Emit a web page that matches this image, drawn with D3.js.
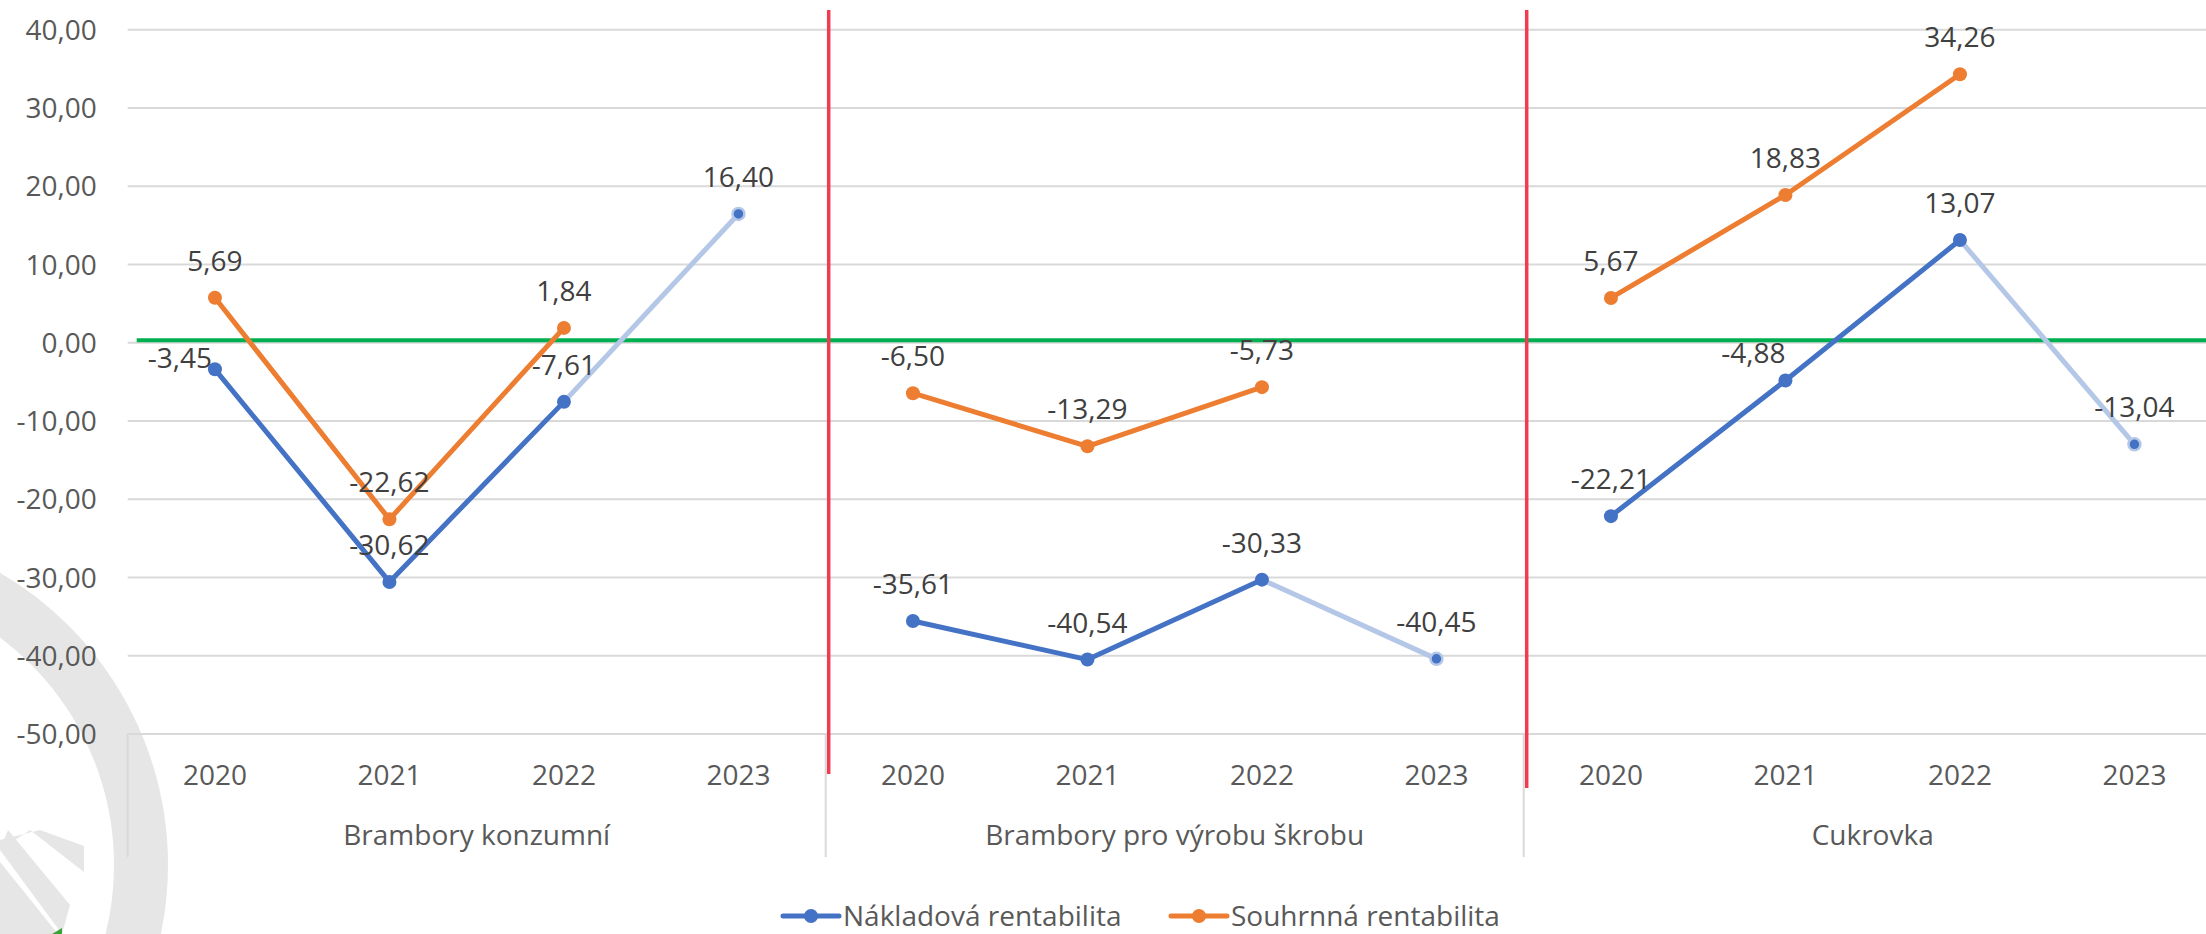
<!DOCTYPE html>
<html>
<head>
<meta charset="utf-8">
<script src="https://cdn.jsdelivr.net/npm/d3@7"></script>
<style>
  body { margin: 0; background: #fff; }
  text { font-family: "Open Sans", sans-serif; }
</style>
</head>
<body>
<svg id="chart" width="2206" height="934"></svg>
<script>
// data
var groups = ["Brambory konzumní", "Brambory pro výrobu škrobu", "Cukrovka"];
var years = ["2020", "2021", "2022", "2023"];
var nakladova = [
    [-3.45, -30.62, -7.61, 16.40],
    [-35.61, -40.54, -30.33, -40.45],
    [-22.21, -4.88, 13.07, -13.04]
];
var souhrnna = [
    [5.69, -22.62, 1.84, null],
    [-6.50, -13.29, -5.73, null],
    [5.67, 18.83, 34.26, null]
];
var yTicks = [40, 30, 20, 10, 0, -10, -20, -30, -40, -50];
var seriesNames = ["Nákladová rentabilita", "Souhrnná rentabilita"];

(function chart() {
    var svg = d3.select("#chart"),
        width = +svg.attr("width"),
        left = 127.7,
        groupW = 698;

    var cz = d3.formatLocale({decimal: ",", thousands: " ", grouping: [3], currency: ["", " Kč"], minus: "-"});
    var fmt = cz.format(".2f");

    var outer = d3.scaleBand()
        .domain(groups)
        .range([left, left + groupW * groups.length]);

    var inner = d3.scaleBand()
        .domain(years)
        .range([0, outer.bandwidth()]);

    var y = d3.scaleLinear()
        .domain([-50, 40])
        .range([733.6, 29.3]);

    function px(gi, yi) {
        return outer(groups[gi]) + inner(years[yi]) + inner.bandwidth() / 2;
    }

    // watermark in the lower left corner
    var wm = svg.append("g").attr("fill", "#e6e6e6");
    wm.append("circle")
        .attr("cx", -170).attr("cy", 865).attr("r", 311)
        .attr("fill", "none").attr("stroke", "#e6e6e6").attr("stroke-width", 54);
    wm.append("path").attr("d", "M0,840 L40,830 L84,846 L84,872 L30,830 L0,850 Z");
    wm.append("path").attr("d", "M0,862 L58,934 L0,934 Z");
    wm.append("path").attr("d", "M8,830 L70,905 L62,934 L0,850 Z");
    wm.append("path").attr("d", "M52,934 L62,928 L62,934 Z").attr("fill", "#3aa335");

    // y axis with gridlines
    var yAxis = svg.append("g")
        .attr("transform", "translate(" + left + ",0)")
        .call(d3.axisLeft(y)
            .tickValues(yTicks)
            .tickSize(-(width - left))
            .tickPadding(31)
            .tickFormat(fmt));
    yAxis.select(".domain").remove();
    yAxis.selectAll(".tick line")
        .attr("stroke", "#d9d9d9")
        .attr("stroke-width", 2);
    yAxis.selectAll(".tick text")
        .attr("fill", "#595959")
        .attr("font-size", 28)
        .attr("dy", "0.36em");

    // category axis
    var bottom = y(-50);
    var bounds = groups.map(function(g) { return outer(g); }).concat([outer.range()[1]]);
    svg.append("g").selectAll("line")
        .data(bounds)
        .join("line")
        .attr("x1", function(d) { return d; })
        .attr("x2", function(d) { return d; })
        .attr("y1", bottom)
        .attr("y2", 857)
        .attr("stroke", "#d9d9d9")
        .attr("stroke-width", 2);

    var xl = svg.append("g").attr("fill", "#595959").attr("font-size", 28).attr("text-anchor", "middle");
    groups.forEach(function(g, gi) {
        years.forEach(function(yr, yi) {
            xl.append("text").attr("x", px(gi, yi)).attr("y", 785).text(yr);
        });
        xl.append("text")
            .attr("x", outer(g) + outer.bandwidth() / 2)
            .attr("y", 845)
            .text(g);
    });

    // green zero line
    svg.append("line")
        .attr("x1", left + 9).attr("x2", width)
        .attr("y1", y(0) - 2).attr("y2", y(0) - 2)
        .attr("stroke", "#00b050")
        .attr("stroke-width", 4);

    // red separators
    var redEnds = [774, 788];
    svg.append("g").selectAll("line")
        .data(groups.slice(1))
        .join("line")
        .attr("x1", function(g) { return outer(g) + 3; })
        .attr("x2", function(g) { return outer(g) + 3; })
        .attr("y1", 10)
        .attr("y2", function(g, i) { return redEnds[i]; })
        .attr("stroke", "#f03c50")
        .attr("stroke-width", 3.5);

    var line = d3.line()
        .defined(function(d) { return d.v != null; })
        .x(function(d) { return d.x; })
        .y(function(d) { return y(d.v); });

    var colors = ["#4472c4", "#ed7d31"];
    var light = "#b4c7e7";
    var series = [nakladova, souhrnna];

    var plot = svg.append("g");
    series.forEach(function(s, si) {
        s.forEach(function(vals, gi) {
            var pts = vals.map(function(v, yi) { return {x: px(gi, yi), v: v, yi: yi}; });
            plot.append("path")
                .datum(pts.slice(2))
                .attr("d", line)
                .attr("fill", "none")
                .attr("stroke", light)
                .attr("stroke-width", 5);
            plot.append("path")
                .datum(pts.slice(0, 3))
                .attr("d", line)
                .attr("fill", "none")
                .attr("stroke", colors[si])
                .attr("stroke-width", 5)
                .attr("stroke-linejoin", "round");
            plot.selectAll(null)
                .data(pts.filter(function(d) { return d.v != null; }))
                .join("circle")
                .attr("cx", function(d) { return d.x; })
                .attr("cy", function(d) { return y(d.v); })
                .attr("r", function(d) { return d.yi === 3 ? 6 : 7; })
                .attr("fill", colors[si])
                .attr("stroke", function(d) { return d.yi === 3 ? light : "none"; })
                .attr("stroke-width", 2.5);
        });
    });

    // data labels, above the point unless moved
    var moved = {
        "0|0|0": {anchor: "end", dx: -3, dy: -1},
        "0|2|1": {anchor: "end", dx: 0, dy: -18}
    };
    var labels = svg.append("g").attr("fill", "#404040").attr("font-size", 28);
    series.forEach(function(s, si) {
        s.forEach(function(vals, gi) {
            vals.forEach(function(v, yi) {
                if (v == null) return;
                var m = moved[si + "|" + gi + "|" + yi] || {anchor: "middle", dx: 0, dy: -27};
                labels.append("text")
                    .attr("x", px(gi, yi) + m.dx)
                    .attr("y", y(v) + m.dy)
                    .attr("text-anchor", m.anchor)
                    .text(fmt(v));
            });
        });
    });

    // legend
    var legX = [783, 1171];
    var leg = svg.append("g");
    seriesNames.forEach(function(name, i) {
        var g = leg.append("g").attr("transform", "translate(" + legX[i] + ",916)");
        g.append("line").attr("x1", 0).attr("x2", 56)
            .attr("stroke", colors[i]).attr("stroke-width", 5).attr("stroke-linecap", "round");
        g.append("circle").attr("cx", 28).attr("r", 7).attr("fill", colors[i]);
        g.append("text").attr("x", 60).attr("y", 9.5)
            .attr("fill", "#595959").attr("font-size", 28).text(name);
    });
})();
</script>
</body>
</html>
